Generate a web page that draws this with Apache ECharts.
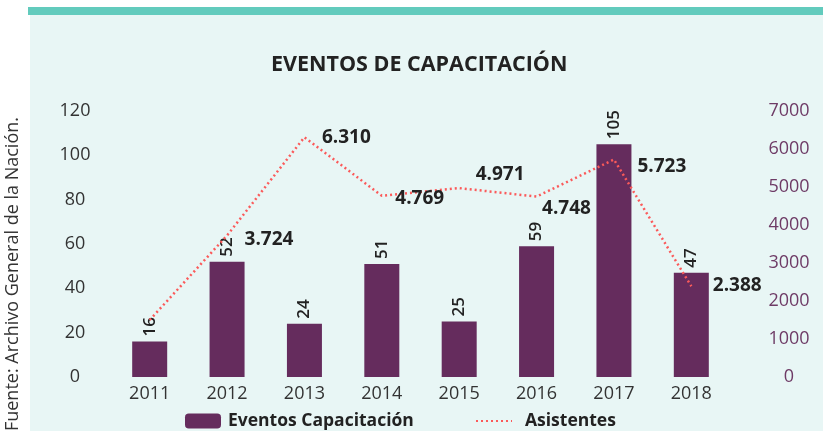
<!DOCTYPE html>
<html>
<head>
<meta charset="utf-8">
<script src="https://cdn.jsdelivr.net/npm/echarts@6/dist/echarts.min.js"></script>
<style>
  html, body { margin: 0; padding: 0; background: #ffffff; }
  #chart { width: 823px; height: 431px; }
</style>
</head>
<body>
<div id="chart"></div>
<script>
// Training events and attendees per year
const years = ['2011', '2012', '2013', '2014', '2015', '2016', '2017', '2018'];
const eventos = [16, 52, 24, 51, 25, 59, 105, 47];
const asistentes = [1500, 3724, 6310, 4769, 4971, 4748, 5723, 2388];
const showAsistLabel = [false, true, true, true, true, true, true, true];
const leftTicks = [0, 20, 40, 60, 80, 100, 120];
const rightTicks = [0, 1000, 2000, 3000, 4000, 5000, 6000, 7000];

// label nudges for the attendee figures (pixels, relative to the right of each point)
const asistLabelOffsets = [[0, 0], [12, 4], [12, 0], [8, 3], [11, -14], [0, 12], [18, 7], [16, -1]];

const FONT = '"Open Sans", "Noto Sans", sans-serif';
const PURPLE = '#652c5d';
const RED = '#fb5a5a';

const fmtMiles = v => {
  const s = String(Math.round(v));
  return s.length > 3 ? s.slice(0, s.length - 3) + '.' + s.slice(-3) : s;
};

const chart = echarts.init(document.getElementById('chart'));
chart.setOption({
  backgroundColor: '#ffffff',
  animation: false,
  textStyle: { fontFamily: FONT },
  graphic: [
    { type: 'rect', z: -10, shape: { x: 30, y: 14, width: 793, height: 417 }, style: { fill: '#e8f6f5' } },
    { type: 'rect', z: -9, shape: { x: 28, y: 7, width: 795, height: 8 }, style: { fill: '#62cbbd' } },
    {
      type: 'text', rotation: Math.PI / 2, x: 4, y: 117,
      style: {
        text: 'Fuente: Archivo General de la Nación.',
        fontFamily: FONT, fontSize: 18, fill: '#333333',
        textAlign: 'right', textVerticalAlign: 'top'
      }
    }
  ],
  title: {
    text: 'EVENTOS DE CAPACITACIÓN',
    left: 266, top: 49,
    textStyle: { fontFamily: FONT, fontSize: 21.5, fontWeight: 'bold', color: '#222222' }
  },
  grid: { left: 111, right: 93, top: 111, bottom: 54 },
  legend: [
    {
      left: 185, top: 412, padding: 0, itemWidth: 36, itemHeight: 15,
      data: ['Eventos Capacitación'],
      textStyle: { fontFamily: FONT, fontSize: 17.5, fontWeight: 'bold', color: '#222222', padding: [0, 0, 0, 2] }
    },
    {
      left: 475, top: 412, padding: 0, itemWidth: 36, itemHeight: 15,
      data: ['Asistentes'],
      textStyle: { fontFamily: FONT, fontSize: 17.5, fontWeight: 'bold', color: '#222222', padding: [0, 0, 0, 8] }
    }
  ],
  xAxis: {
    type: 'category', data: years,
    axisLine: { show: false }, axisTick: { show: false },
    axisLabel: { fontFamily: FONT, fontSize: 18, color: '#333333', margin: 8 }
  },
  yAxis: [
    {
      type: 'value', min: leftTicks[0], max: leftTicks[leftTicks.length - 1], interval: 20,
      splitLine: { show: false }, axisLine: { show: false }, axisTick: { show: false },
      axisLabel: {
        fontFamily: FONT, fontSize: 18, color: '#333333', align: 'center', margin: 36,
        padding: [6, 0, 0, 0]
      }
    },
    {
      type: 'value', min: rightTicks[0], max: rightTicks[rightTicks.length - 1], interval: 1000,
      splitLine: { show: false }, axisLine: { show: false }, axisTick: { show: false },
      axisLabel: {
        fontFamily: FONT, fontSize: 18, color: '#6e3b66', align: 'center', margin: 59,
        formatter: v => String(v)
      }
    }
  ],
  series: [
    {
      name: 'Eventos Capacitación', type: 'bar', yAxisIndex: 0,
      data: eventos, barWidth: 35,
      itemStyle: { color: PURPLE },
      label: {
        show: true, position: 'top', rotate: 90, align: 'left', verticalAlign: 'middle',
        distance: 5, fontFamily: FONT, fontSize: 17, fontWeight: 600, color: '#222222'
      }
    },
    {
      name: 'Asistentes', type: 'line', yAxisIndex: 1,
      data: asistentes.map((v, i) => ({
        value: v,
        label: { show: showAsistLabel[i], offset: asistLabelOffsets[i] }
      })),
      symbol: 'circle', symbolSize: 1, showSymbol: true,
      itemStyle: { color: 'rgba(0,0,0,0)' },
      lineStyle: { color: RED, width: 2.5, type: [2, 3] },
      label: {
        show: true, position: 'right', distance: 5,
        fontFamily: FONT, fontSize: 19, fontWeight: 'bold', color: '#222222',
        formatter: p => fmtMiles(p.value)
      },
      z: 3
    }
  ]
});
</script>
</body>
</html>
